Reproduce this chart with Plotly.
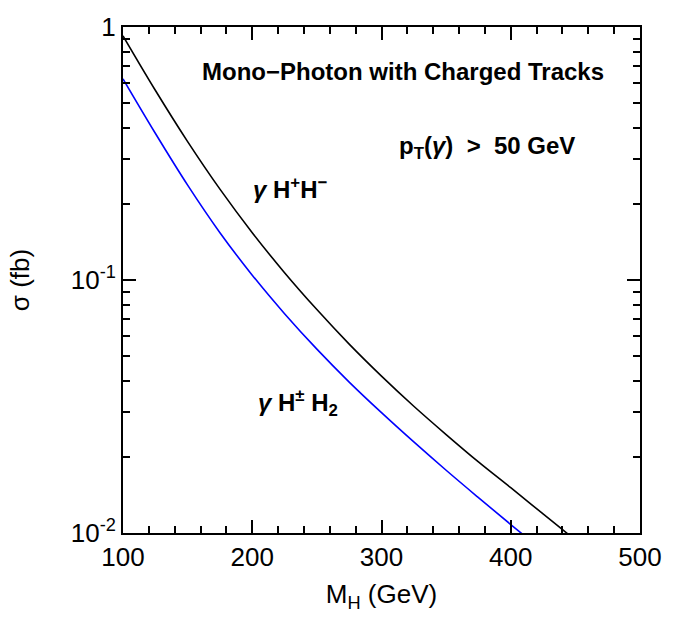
import plotly.graph_objects as go

# Data
mass = [100, 125, 150, 175, 200, 225, 250, 275, 300, 325, 350, 375, 400, 425, 450, 475]
sigma_hphm = [0.9226, 0.5623, 0.3524, 0.2286, 0.1538, 0.1069, 0.0764, 0.0558, 0.0417,
              0.0317, 0.0245, 0.0191, 0.0151, 0.0119, 0.00938, 0.00743]
mass_b = [100, 125, 150, 175, 200, 225, 250, 275, 300, 325, 350, 375, 400, 425, 450]
sigma_hpm_h2 = [0.6237, 0.3802, 0.2371, 0.1538, 0.1045, 0.0736, 0.0533, 0.0395, 0.0299,
                0.0229, 0.0177, 0.0138, 0.0108, 0.00849, 0.00668]

y_major = [0.01, 0.1, 1]
y_major_text = ["10<sup>-2</sup>", "10<sup>-1</sup>", "1"]
y_minor = [k * 0.01 for k in range(2, 10)] + [k * 0.1 for k in range(2, 10)]

FONT = "Liberation Sans, Arial, sans-serif"
ANN_FONT = "Liberation Sans, Arial, sans-serif"

fig = go.Figure()
fig.add_trace(go.Scatter(x=mass, y=sigma_hphm, mode="lines",
                         line=dict(color="black", width=1.6, shape="spline", smoothing=1.0),
                         showlegend=False))
fig.add_trace(go.Scatter(x=mass_b, y=sigma_hpm_h2, mode="lines",
                         line=dict(color="#0000ff", width=1.6, shape="spline", smoothing=1.0),
                         showlegend=False))

fig.update_layout(
    width=688, height=618,
    margin=dict(l=123, r=48, t=16, b=85),
    paper_bgcolor="white", plot_bgcolor="white",
    font=dict(family=FONT, color="black", size=26),
    xaxis=dict(
        range=[100, 500], tickmode="linear", tick0=100, dtick=100,
        ticks="inside", ticklen=13, tickwidth=2, tickcolor="black",
        showline=True, linewidth=2, linecolor="black", mirror="ticks",
        showgrid=False, zeroline=False,
        tickfont=dict(size=26, family=FONT),
        minor=dict(tickmode="linear", tick0=100, dtick=20, ticks="inside",
                   ticklen=7, tickwidth=2, tickcolor="black", showgrid=False),
        title=dict(text="M<sub>H</sub> (GeV)", font=dict(size=26, family=FONT), standoff=14),
    ),
    yaxis=dict(
        type="log", range=[-2, 0],
        tickmode="array", tickvals=y_major, ticktext=y_major_text,
        ticks="inside", ticklen=13, tickwidth=2, tickcolor="black",
        showline=True, linewidth=2, linecolor="black", mirror="ticks",
        showgrid=False, zeroline=False,
        tickfont=dict(size=26, family=FONT),
        minor=dict(tickmode="array", tickvals=y_minor, ticks="inside",
                   ticklen=7, tickwidth=2, tickcolor="black", showgrid=False),
        title=dict(text="σ (fb)", font=dict(size=26, family=FONT), standoff=34),
    ),
)

annots = [
    dict(text="<b>Mono−Photon with Charged Tracks</b>", x=403, y=61, size=24),
    dict(text="<b>p<sub>T</sub>(<i>γ</i>)  >  50 GeV</b>", x=487, y=139, size=24),
    dict(text="<b><i>γ</i> H<sup>+</sup>H<sup>−</sup></b>", x=290, y=180, size=24),
    dict(text="<b><i>γ</i> H<sup>±</sup> H<sub>2</sub></b>", x=298, y=400, size=24),
]
for a in annots:
    fig.add_annotation(text=a["text"], xref="paper", yref="paper",
                       x=(a["x"] - 123) / 517, y=1 - (a["y"] - 16) / 517,
                       showarrow=False, xanchor="center", yanchor="middle",
                       font=dict(size=a["size"], family=ANN_FONT, color="black"))

fig.write_html("out.html")
